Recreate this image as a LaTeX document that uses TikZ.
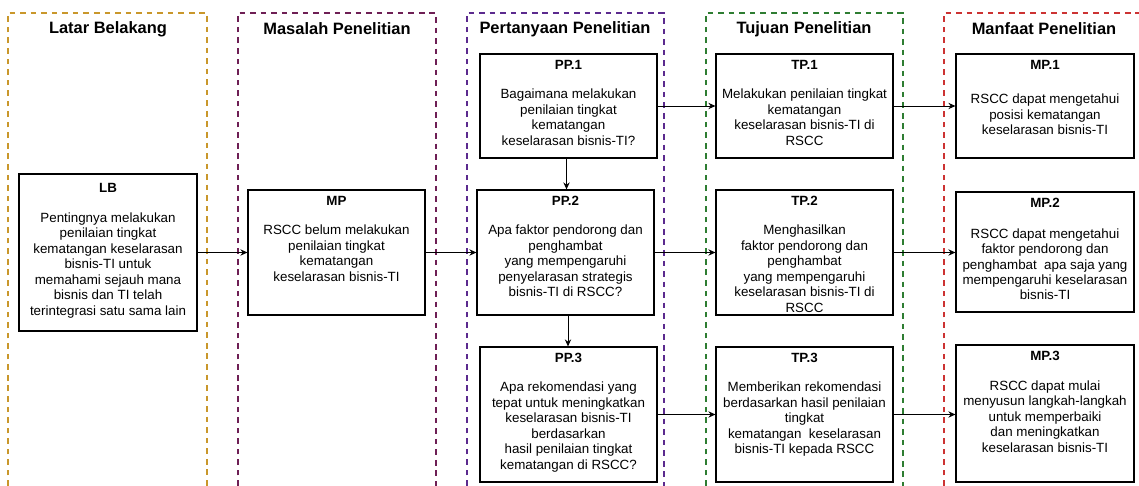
\documentclass[tikz,border=0pt]{standalone}
\usepackage{fontspec}
\setmainfont{Liberation Sans}
\usetikzlibrary{arrows.meta}
\definecolor{lborange}{HTML}{C9972B}
\definecolor{mpmagenta}{HTML}{6E1F55}
\definecolor{pppurple}{HTML}{5B2A8E}
\definecolor{tpgreen}{HTML}{2E7D32}
\definecolor{mpred}{HTML}{CC3333}
\newcommand{\boxtext}[4]{\begin{minipage}[t][#2][t]{#1}\centering
    \rule{0pt}{11.3pt}\textbf{#3}#4\end{minipage}}
\begin{document}
\begin{tikzpicture}[x=0.025cm,y=-0.025cm,
    frame/.style={line width=1.4pt,dash pattern=on 4pt off 3.5pt},
    head/.style={font=\fontsize{11.7}{14}\selectfont\bfseries},
    box/.style={draw,line width=0.8pt,inner sep=0pt,
        font=\fontsize{9.5}{11}\selectfont},
    arr/.style={line width=0.7pt,-{Stealth[length=5pt,width=4.5pt]}}]
        \useasboundingbox (0,0) rectangle (1139,486);
        \draw[frame,lborange] (8,486) -- (8,13) -- (207,13) -- (207,486);
        \draw[frame,mpmagenta] (238,486) -- (238,13) -- (436,13) -- (436,486);
        \draw[frame,pppurple] (467,486) -- (467,13) -- (664,13) -- (664,486);
        \draw[frame,tpgreen] (706,486) -- (706,13) -- (903,13) -- (903,486);
        \draw[frame,mpred] (944,486) -- (944,13) -- (1139,13);
        \node[head] (hLB) at (108,29) {Latar Belakang};
        \node[head] (hMP) at (337,29) {Masalah Penelitian};
        \node[head] (hPP) at (565,29) {Pertanyaan Penelitian};
        \node[head] (hTP) at (804,29) {Tujuan Penelitian};
        \node[head] (hMF) at (1044,29) {Manfaat Penelitian};
        \node[box] (LB) at (108,252.5) {\boxtext{4.45cm}{3.925cm}{\rule{0pt}{13pt}LB}
            {\\[10.5pt]Pentingnya melakukan\\penilaian tingkat\\kematangan keselarasan\\bisnis-TI untuk\\memahami sejauh mana\\bisnis dan TI telah\\terintegrasi satu sama lain}};
        \node[box] (MP) at (336.5,252.5) {\boxtext{4.425cm}{3.125cm}{MP}
            {\\[9.5pt]RSCC belum melakukan\\penilaian tingkat\\kematangan\\keselarasan bisnis-TI}};
        \node[box] (PP1) at (568.5,106) {\boxtext{4.425cm}{2.6cm}{PP.1}
            {\\[9.5pt]Bagaimana melakukan\\penilaian tingkat\\kematangan\\keselarasan bisnis-TI?}};
        \node[box] (PP2) at (565.5,252.5) {\boxtext{4.425cm}{3.125cm}{PP.2}
            {\\[9.5pt]Apa faktor pendorong dan\\penghambat\\yang mempengaruhi\\penyelarasan strategis\\bisnis-TI di RSCC?}};
        \node[box] (PP3) at (568.5,414.5) {\boxtext{4.425cm}{3.375cm}{PP.3}
            {\\[9.5pt]Apa rekomendasi yang\\tepat untuk meningkatkan\\keselarasan bisnis-TI\\berdasarkan\\hasil penilaian tingkat\\kematangan di RSCC?}};
        \node[box] (TP1) at (804.5,106) {\boxtext{4.425cm}{2.6cm}{TP.1}
            {\\[9.5pt]Melakukan penilaian tingkat\\kematangan\\keselarasan bisnis-TI di\\RSCC}};
        \node[box] (TP2) at (804.5,252.5) {\boxtext{4.425cm}{3.125cm}{TP.2}
            {\\[9.5pt]Menghasilkan\\faktor pendorong dan\\penghambat\\yang mempengaruhi\\keselarasan bisnis-TI di\\RSCC}};
        \node[box] (TP3) at (804.5,414.5) {\boxtext{4.425cm}{3.375cm}{TP.3}
            {\\[9.5pt]Memberikan rekomendasi\\berdasarkan hasil penilaian\\tingkat\\kematangan\ \ keselarasan\\bisnis-TI kepada RSCC}};
        \node[box] (MF1) at (1045,106) {\boxtext{4.45cm}{2.6cm}{MP.1}
            {\\[13pt]RSCC dapat mengetahui\\posisi kematangan\\keselarasan bisnis-TI}};
        \node[box] (MF2) at (1045,252) {\boxtext{4.45cm}{3cm}{MP.2}
            {\\[10.5pt]RSCC dapat mengetahui\\faktor pendorong dan\\penghambat\ \ apa saja yang\\mempengaruhi keselarasan\\bisnis-TI}};
        \node[box] (MF3) at (1045,413.5) {\boxtext{4.45cm}{3.425cm}{MP.3}
            {\\[10pt]RSCC dapat mulai\\menyusun langkah-langkah\\untuk memperbaiki\\dan meningkatkan\\keselarasan bisnis-TI}};
        \draw[arr] (LB.east) -- (MP.west);
        \draw[arr] (MP.east) -- (PP2.west);
        \draw[arr] (PP1.east) -- (TP1.west);
        \draw[arr] (PP2.east) -- (TP2.west);
        \draw[arr] (PP3.east) -- (TP3.west);
        \draw[arr] (TP1.east) -- (MF1.west);
        \draw[arr] (TP2.east) -- (TP2.east -| MF2.west);
        \draw[arr] (TP3.east) -- (TP3.east -| MF3.west);
        \draw[arr] (PP1.south) ++(-2,0) coordinate (c1) (c1) -- (c1 |- PP2.north);
        \draw[arr] (PP2.south) ++(2.5,0) coordinate (c2) (c2) -- (c2 |- PP3.north);
\end{tikzpicture}
\end{document}
